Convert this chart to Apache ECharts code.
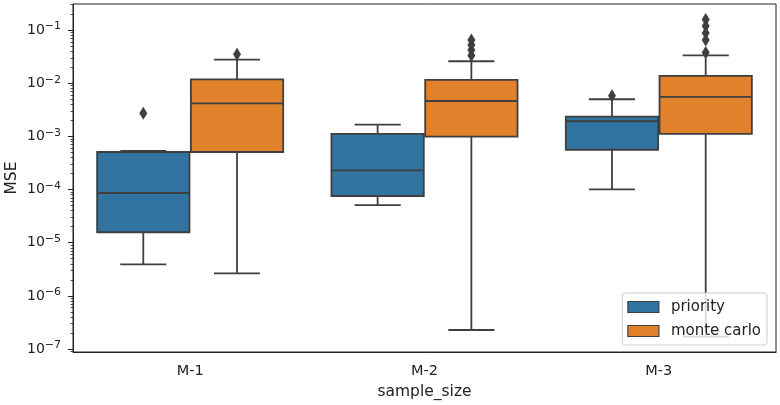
<!DOCTYPE html>
<html>
<head>
<meta charset="utf-8">
<script src="https://cdn.jsdelivr.net/npm/echarts@6.0.0/dist/echarts.min.js"></script>
<style>
  html, body { margin: 0; padding: 0; background: #fff; }
  #main { width: 780px; height: 405px; }
</style>
</head>
<body>
<div id="main"></div>
<script>
// box stats per category: [lower whisker, Q1, median, Q3, upper whisker]
var categories = ['M-1', 'M-2', 'M-3'];
var priorityBoxes = [
  [3.9e-6, 1.57e-5, 8.6e-5, 5.07e-4, 5.3e-4],
  [5.1e-5, 7.55e-5, 2.3e-4, 1.11e-3, 1.66e-3],
  [1.01e-4, 5.6e-4, 1.92e-3, 2.34e-3, 4.98e-3]
];
var monteCarloBoxes = [
  [2.65e-6, 5.07e-4, 4.18e-3, 1.18e-2, 2.76e-2],
  [2.28e-7, 9.84e-4, 4.62e-3, 1.15e-2, 2.58e-2],
  [1.71e-7, 1.11e-3, 5.5e-3, 1.37e-2, 3.34e-2]
];
var priorityOutliers = [[2.71e-3], [], [5.8e-3]];
var monteCarloOutliers = [
  [3.49e-2],
  [3.31e-2, 4.21e-2, 5.22e-2, 6.49e-2],
  [3.78e-2, 6.49e-2, 8.79e-2, 1.19e-1, 1.58e-1]
];
var majorTicks = [1e-7, 1e-6, 1e-5, 1e-4, 1e-3, 1e-2, 1e-1];

var yMin = 8.8e-8, yMax = 0.308;
var lineColor = '#3f3f3f';
var blue = '#3274a1', orange = '#e1812c';
var font = 'DejaVu Sans';

var minorTicks = [];
for (var e = -8; e <= -1; e++) {
  for (var k = 2; k <= 9; k++) minorTicks.push(k * Math.pow(10, e));
}

function boxData(boxes) {
  return boxes.map(function (b, i) { return [categories[i]].concat(b); });
}
function outlierData(list, dodge) {
  var out = [];
  list.forEach(function (vals, i) {
    vals.forEach(function (v) { out.push([i + 0.5 + dodge, v]); });
  });
  return out;
}

function boxRenderer(dodge) {
  return function (params, api) {
    var idx = api.value(0);
    var band = api.size([1, 0], [idx, api.value(3)])[0];
    var cx = api.coord([idx, api.value(3)])[0] + dodge * band;
    var half = band * 0.197;
    var cap = half / 2;
    var yLow = api.coord([idx, api.value(1)])[1];
    var yQ1 = api.coord([idx, api.value(2)])[1];
    var yMed = api.coord([idx, api.value(3)])[1];
    var yQ3 = api.coord([idx, api.value(4)])[1];
    var yHigh = api.coord([idx, api.value(5)])[1];
    var st = { stroke: lineColor, lineWidth: 1.8 };
    return {
      type: 'group',
      children: [
        { type: 'line', shape: { x1: cx, y1: yQ1, x2: cx, y2: yLow }, style: st },
        { type: 'line', shape: { x1: cx, y1: yQ3, x2: cx, y2: yHigh }, style: st },
        { type: 'line', shape: { x1: cx - cap, y1: yLow, x2: cx + cap, y2: yLow }, style: st },
        { type: 'line', shape: { x1: cx - cap, y1: yHigh, x2: cx + cap, y2: yHigh }, style: st },
        { type: 'rect', shape: { x: cx - half, y: yQ3, width: half * 2, height: yQ1 - yQ3 },
          style: { fill: api.visual('color'), stroke: lineColor, lineWidth: 1.8 } },
        { type: 'line', shape: { x1: cx - half, y1: yMed, x2: cx + half, y2: yMed }, style: st }
      ]
    };
  };
}

var myChart = echarts.init(document.getElementById('main'));
var option = {
  animation: false,
  textStyle: { fontFamily: font },
  grid: {
    left: 73, right: 4, top: 4, bottom: 53,
    outerBoundsMode: 'none',
    containLabel: false,
    show: true, borderColor: '#222', borderWidth: 1, backgroundColor: '#fff'
  },
  legend: {
    data: ['priority', 'monte carlo'],
    orient: 'vertical',
    right: 13,
    bottom: 60,
    icon: 'rect',
    itemWidth: 31,
    itemHeight: 11,
    itemGap: 8,
    padding: [6, 6, 6, 5],
    backgroundColor: 'rgba(255,255,255,0.8)',
    borderColor: '#cccccc',
    borderWidth: 1,
    borderRadius: 3,
    itemStyle: { borderColor: lineColor, borderWidth: 1.2 },
    textStyle: { fontFamily: font, fontSize: 15, color: '#222', padding: [0, 0, 0, 7], lineHeight: 16 }
  },
  xAxis: [{
    type: 'category',
    data: categories,
    boundaryGap: true,
    name: 'sample_size',
    nameLocation: 'middle',
    nameGap: 32,
    nameMoveOverlap: false,
    nameTextStyle: { fontFamily: font, fontSize: 15.5, color: '#222' },
    axisLine: { lineStyle: { color: '#222', width: 1 } },
    axisTick: { alignWithLabel: true, length: 5, lineStyle: { color: '#222' } },
    axisLabel: { fontFamily: font, fontSize: 14.5, color: '#222', margin: 12 },
    splitLine: { show: false }
  }, {
    type: 'value',
    min: 0,
    max: 3,
    show: false
  }],
  yAxis: [{
    type: 'log',
    logBase: 10,
    min: yMin,
    max: yMax,
    position: 'left',
    name: 'MSE',
    nameLocation: 'middle',
    nameRotate: 90,
    nameGap: 53,
    nameMoveOverlap: false,
    nameTextStyle: { fontFamily: font, fontSize: 15.5, color: '#222' },
    axisLine: { show: true, lineStyle: { color: '#222', width: 1 } },
    axisTick: { show: true, length: 5, customValues: majorTicks, lineStyle: { color: '#222' } },
    axisLabel: {
      customValues: majorTicks,
      margin: 12,
      formatter: function (v) {
        var p = Math.round(Math.log10(v));
        return '{b|10}{s|\u2212' + Math.abs(p) + '}';
      },
      rich: {
        b: { fontFamily: font, fontSize: 14, lineHeight: 18, color: '#222' },
        s: { fontFamily: font, fontSize: 11, lineHeight: 12, verticalAlign: 'top', color: '#222' }
      }
    },
    splitLine: { show: false }
  }, {
    type: 'log',
    logBase: 10,
    min: yMin,
    max: yMax,
    position: 'left',
    axisLine: { show: false },
    axisLabel: { show: false },
    axisTick: { show: true, length: 2.5, customValues: minorTicks, lineStyle: { color: '#222', width: 0.8 } },
    splitLine: { show: false }
  }],
  series: [{
    name: 'priority',
    type: 'custom',
    xAxisIndex: 0,
    yAxisIndex: 0,
    itemStyle: { color: blue, borderColor: lineColor },
    encode: { x: 0, y: [1, 2, 3, 4, 5] },
    renderItem: boxRenderer(-0.2),
    data: boxData(priorityBoxes)
  }, {
    name: 'monte carlo',
    type: 'custom',
    xAxisIndex: 0,
    yAxisIndex: 0,
    itemStyle: { color: orange, borderColor: lineColor },
    encode: { x: 0, y: [1, 2, 3, 4, 5] },
    renderItem: boxRenderer(0.2),
    data: boxData(monteCarloBoxes)
  }, {
    name: 'priority outliers',
    type: 'scatter',
    xAxisIndex: 1,
    yAxisIndex: 0,
    symbol: 'diamond',
    symbolSize: [8, 13],
    itemStyle: { color: lineColor, opacity: 1 },
    data: outlierData(priorityOutliers, -0.2)
  }, {
    name: 'monte carlo outliers',
    type: 'scatter',
    xAxisIndex: 1,
    yAxisIndex: 0,
    symbol: 'diamond',
    symbolSize: [8, 13],
    itemStyle: { color: lineColor, opacity: 1 },
    data: outlierData(monteCarloOutliers, 0.2)
  }]
};
myChart.setOption(option);
</script>
</body>
</html>
